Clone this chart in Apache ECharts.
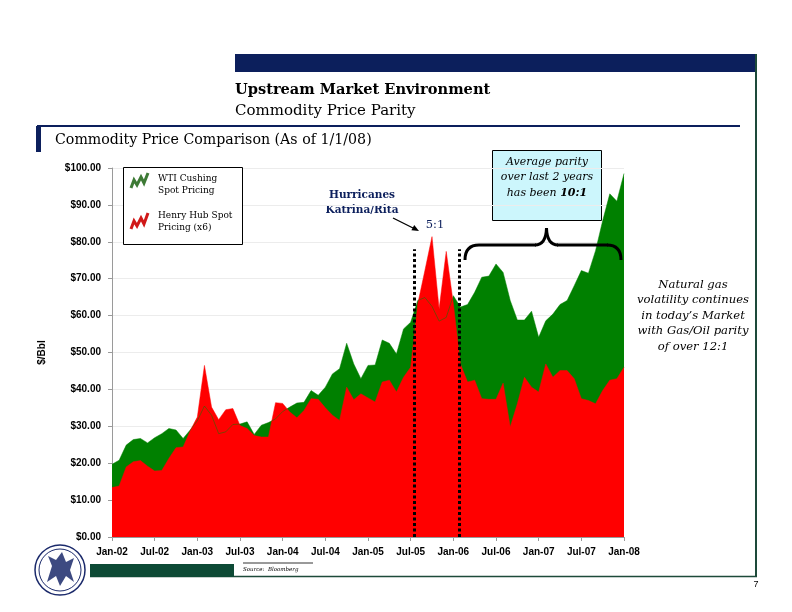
<!DOCTYPE html>
<html><head><meta charset="utf-8">
<script src="https://cdn.jsdelivr.net/npm/echarts@6/dist/echarts.min.js"></script>
<style>html,body{margin:0;padding:0;background:#fff}#c{width:792px;height:612px}</style>
</head><body><div id="c"></div>
<script>
// Monthly, Jan-02 .. Jan-08 (73 points)
const tickLabels = ['Jan-02','Jul-02','Jan-03','Jul-03','Jan-04','Jul-04','Jan-05','Jul-05','Jan-06','Jul-06','Jan-07','Jul-07','Jan-08'];
const wtiCushing = [
  19.7,20.8,24.9,26.4,26.7,25.5,26.9,28.0,29.4,29.0,26.7,29.0,
  31.5,35.5,33.0,28.0,28.5,30.5,30.6,31.2,27.8,30.3,31.0,32.0,
  34.0,35.2,36.3,36.5,39.7,38.4,40.6,44.2,45.6,52.5,46.9,42.9,
  46.5,46.6,53.4,52.5,49.6,56.4,58.2,64.1,64.9,62.5,58.5,59.5,
  65.4,62.3,63.0,66.3,70.4,70.7,74.0,71.7,64.1,58.8,58.8,61.2,
  54.1,58.6,60.4,63.0,64.1,68.1,72.2,71.5,77.6,85.7,93.0,91.0,
  98.5
];
const henryHubX6 = [
  13.4,13.8,19.0,20.4,20.7,19.2,17.9,18.0,21.3,24.2,24.4,28.8,
  32.5,46.5,35.2,31.8,34.5,34.8,30.2,29.4,27.5,27.1,27.1,36.4,
  36.2,33.9,32.3,34.3,37.5,37.3,35.0,33.0,31.6,40.6,37.2,38.8,
  37.7,36.6,42.0,42.5,39.3,43.3,46.0,63.2,72.2,81.4,61.8,77.4,
  63.2,46.9,42.0,42.5,37.5,37.3,37.3,41.7,29.8,36.1,43.3,40.6,
  39.3,46.9,43.3,45.1,45.1,42.9,37.5,37.0,36.1,39.7,42.5,42.9,
  46.0
];
// Parity window markers (month index) and their top value
const markerMonths = [42.5, 48.9];
const markerTop = 78;

const serif = '"DejaVu Serif"';
const sans = '"Liberation Sans"';
const navy = '#0c1f5c';
const frame = '#1d4a3a';

const chart = echarts.init(document.getElementById('c'), null, {renderer:'canvas'});
const toPairs = arr => arr.map((v,i)=>[i,v]);

const g = [];
// header bar
g.push({type:'rect', shape:{x:235,y:54,width:522,height:18}, style:{fill:navy}, silent:true});
// right frame line
g.push({type:'line', shape:{x1:756,y1:54,x2:756,y2:577}, style:{stroke:frame,lineWidth:2}});
// bottom frame line
g.push({type:'line', shape:{x1:90,y1:576.5,x2:757,y2:576.5}, style:{stroke:frame,lineWidth:1.5}});
g.push({type:'rect', shape:{x:90,y:564,width:144,height:13}, style:{fill:'#0d4a35'}});
// source
g.push({type:'line', shape:{x1:243,y1:563,x2:313,y2:563}, style:{stroke:'#000',lineWidth:0.8}});
g.push({type:'text', style:{text:'Source:  Bloomberg', x:243, y:570, font:'italic 5.5px '+serif, fill:'#000', textVerticalAlign:'middle'}});
// page number
g.push({type:'text', style:{text:'7', x:756, y:585, font:'9px '+sans, fill:'#000', textAlign:'center', textVerticalAlign:'middle'}});
// titles
g.push({type:'text', style:{text:'Upstream Market Environment', x:235, y:90, font:'bold 14.6px '+serif, fill:'#000', textVerticalAlign:'middle'}});
g.push({type:'text', style:{text:'Commodity Price Parity', x:235, y:111, font:'15px '+serif, fill:'#000', textVerticalAlign:'middle'}});
g.push({type:'line', shape:{x1:37,y1:126,x2:740,y2:126}, style:{stroke:navy,lineWidth:2}});
g.push({type:'rect', shape:{x:36,y:126,width:5,height:26}, style:{fill:navy}});
g.push({type:'text', style:{text:'Commodity Price Comparison (As of 1/1/08)', x:55, y:140, font:'14.2px '+serif, fill:'#000', textVerticalAlign:'middle'}});
// legend box
g.push({type:'rect', shape:{x:123.5,y:167.5,width:119,height:77}, style:{fill:'#fff',stroke:'#000',lineWidth:1}, z:10});
g.push({type:'polyline', shape:{points:[[131,188],[134,180],[137,185],[141,177],[144,183],[148,173]]}, style:{stroke:'#3d7a35',lineWidth:3,fill:null}, z:11});
g.push({type:'polyline', shape:{points:[[131,229],[134,221],[137,226],[141,218],[144,224],[148,213]]}, style:{stroke:'#d01818',lineWidth:3,fill:null}, z:11});
[['WTI Cushing',179],['Spot Pricing',191],['Henry Hub Spot',216],['Pricing (x6)',228]].forEach(t=>{
  g.push({type:'text', style:{text:t[0], x:158, y:t[1], font:'9px '+serif, fill:'#000', textVerticalAlign:'middle'}, z:11});
});
// hurricanes annotation
g.push({type:'text', style:{text:'Hurricanes', x:362, y:195, font:'bold 10.5px '+serif, fill:navy, textAlign:'center', textVerticalAlign:'middle'}});
g.push({type:'text', style:{text:'Katrina/Rita', x:362, y:210, font:'bold 10.5px '+serif, fill:navy, textAlign:'center', textVerticalAlign:'middle'}});
g.push({type:'line', shape:{x1:393,y1:218,x2:413,y2:228}, style:{stroke:'#000',lineWidth:1.3}});
g.push({type:'polygon', shape:{points:[[419,231],[411.4,230.3],[414.2,225.1]]}, style:{fill:'#000'}});
g.push({type:'text', style:{text:'5:1', x:435, y:225, font:'11.5px '+serif, fill:navy, textAlign:'center', textVerticalAlign:'middle'}});
// parity box
g.push({type:'rect', shape:{x:492.5,y:150.5,width:109,height:70}, style:{fill:'#ccf6fc',stroke:'#000',lineWidth:1}});
g.push({type:'text', style:{text:'Average parity', x:547, y:162, font:'italic 11px '+serif, fill:'#000', textAlign:'center', textVerticalAlign:'middle'}});
g.push({type:'text', style:{text:'over last 2 years', x:547, y:177.5, font:'italic 11px '+serif, fill:'#000', textAlign:'center', textVerticalAlign:'middle'}});
g.push({type:'text', style:{rich:{a:{font:'italic 11px '+serif, fill:'#000'}, b:{font:'italic bold 11px '+serif, fill:'#000'}}, text:'{a|has been }{b|10:1}', x:547, y:193, textAlign:'center', textVerticalAlign:'middle'}});
// brace
const braceStyle = {stroke:'#000',lineWidth:3,fill:null};
g.push({type:'bezierCurve', shape:{x1:465,y1:260,cpx1:465,cpy1:245,x2:479,y2:245}, style:braceStyle, z:5});
g.push({type:'line', shape:{x1:479,y1:245,x2:536,y2:245}, style:braceStyle, z:5});
g.push({type:'bezierCurve', shape:{x1:535,y1:245,cpx1:546,cpy1:245,x2:546.5,y2:228}, style:braceStyle, z:5});
g.push({type:'bezierCurve', shape:{x1:546.5,y1:228,cpx1:547,cpy1:245,x2:558,y2:245}, style:braceStyle, z:5});
g.push({type:'line', shape:{x1:557,y1:245,x2:608,y2:245}, style:braceStyle, z:5});
g.push({type:'bezierCurve', shape:{x1:607,y1:245,cpx1:621,cpy1:245,x2:621,y2:260}, style:braceStyle, z:5});
// right note
['Natural gas','volatility continues','in today\u2019s Market','with Gas/Oil parity','of over 12:1'].forEach((t,i)=>{
  g.push({type:'text', style:{text:t, x:693, y:285+15.4*i, font:'italic 11.6px '+serif, fill:'#000', textAlign:'center', textVerticalAlign:'middle'}});
});
// logo (seal)
g.push({type:'circle', shape:{cx:60,cy:570,r:25}, style:{fill:'#fff',stroke:'#1b2a6b',lineWidth:1.5}});
g.push({type:'circle', shape:{cx:60,cy:570,r:21}, style:{fill:'none',stroke:'#1b2a6b',lineWidth:1}});
g.push({type:'polygon', shape:{points:[[47,582],[52,566],[48,556],[56,560],[62,552],[66,562],[74,558],[70,570],[74,582],[66,576],[60,586],[56,576]]}, style:{fill:'#1b2a6b',opacity:0.85}});

chart.setOption({
  animation:false,
  backgroundColor:'#fff',
  grid:{left:112, right:168, top:168, bottom:75, containLabel:false},
  xAxis:{
    type:'value', min:0, max:72, interval:6,
    axisLine:{show:true, onZero:false, lineStyle:{color:'#9a9a9a'}},
    axisTick:{show:true, length:4, lineStyle:{color:'#9a9a9a'}},
    splitLine:{show:false},
    axisLabel:{formatter:v=>tickLabels[Math.round(v/6)], fontFamily:'Liberation Sans', fontWeight:'bold', fontSize:10, color:'#000', margin:10}
  },
  yAxis:{
    type:'value', min:0, max:100, interval:10,
    name:'$/Bbl', nameLocation:'middle', nameGap:65, nameRotate:90,
    nameTextStyle:{fontFamily:'Liberation Sans', fontWeight:'bold', fontSize:10, color:'#000'},
    axisLine:{show:true, lineStyle:{color:'#9a9a9a'}},
    axisTick:{show:true, length:4, lineStyle:{color:'#9a9a9a'}},
    splitLine:{show:true, lineStyle:{color:'#ececec'}},
    axisLabel:{formatter:v=>'$'+v.toFixed(2), fontFamily:'Liberation Sans', fontWeight:'bold', fontSize:10, color:'#000', margin:11}
  },
  series:[
    {name:'WTI Cushing Spot Pricing', type:'line', data:toPairs(wtiCushing), showSymbol:false, symbol:'none',
     lineStyle:{width:0.5,color:'#008000'}, areaStyle:{color:'#008000',opacity:1}, itemStyle:{color:'#008000'}},
    {name:'Henry Hub Spot Pricing (x6)', type:'line', data:toPairs(henryHubX6), showSymbol:false, symbol:'none',
     lineStyle:{width:0.5,color:'#ff0000'}, areaStyle:{color:'#ff0000',opacity:1}, itemStyle:{color:'#ff0000'},
     markLine:{silent:true, symbol:['none','none'], label:{show:false},
       lineStyle:{color:'#000', width:3, type:[3,2.5]},
       data: markerMonths.map(m=>[{coord:[m,0]},{coord:[m,markerTop]}])}}
  ],
  graphic:{elements:g}
});
</script>
</body></html>
